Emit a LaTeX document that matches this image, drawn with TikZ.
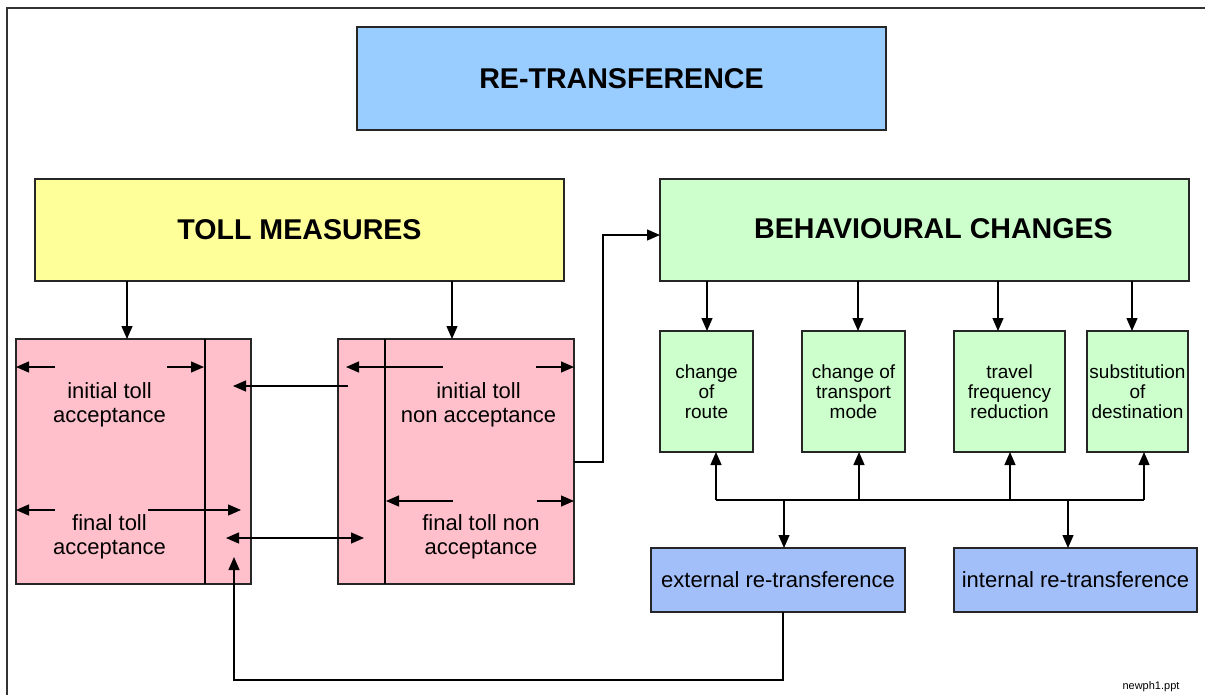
\documentclass[tikz,border=0pt]{standalone}
\usepackage{fontspec}
\setmainfont{Liberation Sans}
\usetikzlibrary{arrows.meta,calc}
\definecolor{retr}{HTML}{99CCFF}
\definecolor{tollc}{HTML}{FFFF99}
\definecolor{behc}{HTML}{CCFFCC}
\definecolor{pinkc}{HTML}{FFC0CB}
\definecolor{lavc}{HTML}{A3BFFA}
\begin{document}
\begin{tikzpicture}[x=1pt,y=-1pt,
 box/.style={draw=black!85,line width=1.3pt,inner sep=0pt,outer sep=0pt,align=center},
 arr/.style={line width=1.3pt,-{Triangle[length=13pt,width=11pt]}},
 darr/.style={line width=1.3pt,{Triangle[length=13pt,width=11pt]}-{Triangle[length=13pt,width=11pt]}},
 ln/.style={line width=1.3pt},
 big/.style={font=\fontsize{28.6}{32}\selectfont\bfseries},
 mid/.style={font=\fontsize{22}{24}\selectfont},
 sml/.style={font=\fontsize{19}{20}\selectfont},
 lbl/.style={inner sep=0pt,align=center}]
\useasboundingbox (0,0) rectangle (1205,694);
\draw[line width=2pt,black!80] (7,700) -- (7,8) -- (1210,8);

% main boxes
\node[box,fill=retr,minimum width=529pt,minimum height=103pt,big] (RT) at (621.5,78.5) {RE-TRANSFERENCE};
\node[box,fill=tollc,minimum width=529pt,minimum height=102pt,big] (TM) at (299.5,230) {TOLL MEASURES};
\node[box,fill=behc,minimum width=529pt,minimum height=102pt] (BC) at (924.5,230) {};
\node[lbl,big] (BCt) at (933.5,229) {BEHAVIOURAL CHANGES};

% pink boxes
\node[box,fill=pinkc,minimum width=235pt,minimum height=245pt] (PL) at (133.5,461.5) {};
\node[box,fill=pinkc,minimum width=236pt,minimum height=245pt] (PR) at (456,461.5) {};
\draw[ln] (PL.north -| 205,0) -- (PL.south -| 205,0);
\draw[ln] (PR.north -| 385,0) -- (PR.south -| 385,0);
\node[lbl,mid] (t1) at (109.5,404.5) {initial toll\\acceptance};
\node[lbl,mid] (t2) at (109.5,536.5) {final toll\\acceptance};
\node[lbl,mid] (t3) at (478.5,404.5) {initial toll\\non acceptance};
\node[lbl,mid] (t4) at (481,536.5) {final toll non\\acceptance};

% green boxes
\node[box,fill=behc,minimum width=93pt,minimum height=121pt,sml] (G1) at (706.5,391.5) {change\\of\\route};
\node[box,fill=behc,minimum width=103pt,minimum height=121pt,sml] (G2) at (853.5,391.5) {change of\\transport\\mode};
\node[box,fill=behc,minimum width=111pt,minimum height=121pt,sml] (G3) at (1009.5,391.5) {travel\\frequency\\reduction};
\node[box,fill=behc,minimum width=101pt,minimum height=121pt,sml] (G4) at (1137.5,391.5) {substitution\\of\\destination};

% lower boxes
\node[box,fill=lavc,minimum width=254pt,minimum height=64pt,mid] (EX) at (778,580) {external re-transference};
\node[box,fill=lavc,minimum width=243pt,minimum height=64pt,mid] (IN) at (1075.5,580) {internal re-transference};

\node[lbl,font=\fontsize{11}{13}\selectfont] (fn) at (1151,687) {newph1.ppt};

% arrows from toll measures
\draw[arr] (TM.south -| 127,0) -- (PL.north -| 127,0);
\draw[arr] (TM.south -| 452,0) -- (PR.north -| 452,0);

% internal arrows left box
\coordinate (l1) at (55,367);
\coordinate (l2) at (167,367);
\coordinate (l3) at (55,510);
\coordinate (l4) at (148,510);
\draw[arr] (l1) -- (PL.west |- l1);
\draw[arr] (l2) -- (204,367);
\draw[arr] (l3) -- (PL.west |- l3);
\draw[arr] (l4) -- (241,510);

% internal arrows right box
\coordinate (r1) at (443,367);
\coordinate (r2) at (536,367);
\coordinate (r3) at (453,501);
\coordinate (r4) at (537,501);
\draw[arr] (r1) -- (346,367);
\draw[arr] (r2) -- (PR.east |- r2);
\draw[arr] (r3) -- (386,501);
\draw[arr] (r4) -- (PR.east |- r4);

% cross arrows
\coordinate (c1) at (348,386);
\coordinate (c2) at (233,386);
\draw[arr] (c1) -- (c2);
\coordinate (d1) at (226,538);
\coordinate (d2) at (364,538);
\draw[darr] (d1) -- (d2);

% loop from external back to left box
\coordinate (e1) at (234,557);
\draw[arr] (EX.south -| 783,0) |- (234,680) -- (e1);

% right box to behavioural changes
\draw[arr] (PR.east |- 0,462) -- (603,462) |- (BC.west |- 0,235);

% behavioural changes to sub-boxes
\draw[arr] (BC.south -| 707,0) -- (G1.north -| 707,0);
\draw[arr] (BC.south -| 858,0) -- (G2.north -| 858,0);
\draw[arr] (BC.south -| 998,0) -- (G3.north -| 998,0);
\draw[arr] (BC.south -| 1132,0) -- (G4.north -| 1132,0);

% bus
\coordinate (b1) at (716,500);
\coordinate (b4) at (1144,500);
\draw[ln] (b1) -- (b4);
\draw[arr] (b1) -- (G1.south -| b1);
\draw[arr] (859,500) -- (G2.south -| 859,0);
\draw[arr] (1010,500) -- (G3.south -| 1010,0);
\draw[arr] (b4) -- (G4.south -| b4);
\draw[arr] (784,500) -- (EX.north -| 784,0);
\draw[arr] (1068,500) -- (IN.north -| 1068,0);
\end{tikzpicture}
\end{document}
